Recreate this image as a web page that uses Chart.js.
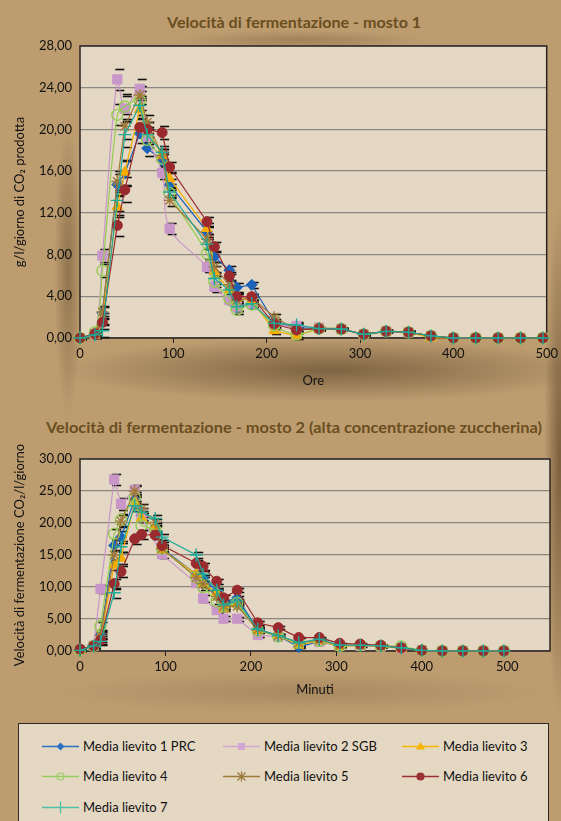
<!DOCTYPE html>
<html lang="it">
<head>
<meta charset="utf-8">
<title>Velocità di fermentazione</title>
<script src="https://cdn.jsdelivr.net/npm/chart.js@4.4.1/dist/chart.umd.min.js"></script>
<style>
    html, body { margin: 0; padding: 0; }
    body {
        width: 561px; height: 821px; overflow: hidden; position: relative;
        font-family: Lato, "Open Sans", sans-serif;
        background:
            radial-gradient(ellipse 270px 32px at 330px 370px, rgba(100,76,48,0.7), rgba(100,76,48,0)),
            radial-gradient(ellipse 14px 150px at 68px 270px, rgba(115,88,55,0.6), rgba(115,88,55,0)),
            radial-gradient(ellipse 16px 260px at 560px 460px, rgba(105,80,50,0.8), rgba(105,80,50,0)),
            radial-gradient(ellipse 130px 10px at 300px 40px, rgba(125,96,62,0.45), rgba(125,96,62,0)),
            radial-gradient(ellipse 260px 22px at 300px 692px, rgba(140,110,75,0.4), rgba(140,110,75,0)),
            #bd9d70;
    }
    .titolo {
        position: absolute; left: 0; white-space: nowrap;
        font-weight: 700; font-size: 15px; color: #6a4e20;
        transform-origin: left center; line-height: 18px;
    }
    .wrap { position: absolute; left: 0; width: 561px; }
    #wrap1 { top: 0; height: 400px; }
    #wrap2 { top: 400px; height: 310px; }
    .legenda {
        position: absolute; left: 18px; top: 723px; width: 531px; height: 110px;
        background: #e4d8c3; border: 1.5px solid #2c2824; box-sizing: border-box;
    }
    .voce {
        position: absolute; display: flex; align-items: center;
        font-size: 13px; color: #111; white-space: nowrap; height: 16px;
    }
    .voce canvas { margin-right: 4px; width: 37px; height: 16px; }
</style>
</head>
<body>

<div class="titolo" id="titolo1">Velocità di fermentazione - mosto 1</div>
<div class="wrap" id="wrap1"><canvas id="chart1"></canvas></div>

<div class="titolo" id="titolo2">Velocità di fermentazione - mosto 2 (alta concentrazione zuccherina)</div>
<div class="wrap" id="wrap2"><canvas id="chart2"></canvas></div>

<div id="legendBox"></div>

<script>
// ore di campionamento (comuni ai due mosti)
const hours = [0, 16, 24, 40, 48, 64, 72, 88, 96, 136, 144, 160, 168, 184, 208, 232, 256, 280, 304, 328, 352, 376, 400, 424, 448, 472, 496];

const seriesNames = ['Media lievito 1 PRC', 'Media lievito 2 SGB', 'Media lievito 3', 'Media lievito 4', 'Media lievito 5', 'Media lievito 6', 'Media lievito 7'];

// mosto 1 - g/l/giorno
const m1L1 = [0, 0.4, 2.4, 14.7, 15.8, 19.6, 18.2, 17.0, 14.7, 10.2, 7.8, 6.5, 4.85, 5.1, 1.56, 1.0, 0.9, 0.86, 0.35, 0.64, 0.55, 0.2, 0, 0, 0, 0, 0];
const m1L2 = [0, 0.4, 7.9, 24.8, 22.0, 23.9, 19.3, 15.85, 10.5, 6.8, 4.9, 3.64, 3.0, 3.3, 1.3, 1.15, 1.0, 0.86, 0.35, 0.64, 0.55, 0.2, 0, 0, 0, 0, 0];
const m1L3 = [0, 0.3, 1.8, 12.6, 15.9, 21.9, 20.0, 17.5, 15.3, 10.5, 6.4, 4.6, 3.8, 3.6, 0.7, 0.2, 0.9, 0.86, 0.35, 0.64, 0.55, 0, 0, 0, 0, 0, 0];
const m1L4 = [0, 0.55, 6.45, 21.4, 22.2, 22.8, 19.0, 17.2, 13.9, 8.1, 5.4, 3.8, 2.7, 3.2, 1.2, 0.35, 0.9, 0.86, 0.35, 0.64, 0.55, 0.2, 0, 0, 0, 0, 0];
const m1L5 = [0, 0.4, 2.5, 15.0, 20.3, 23.3, 20.7, 17.5, 13.2, 9.5, 6.8, 5.1, 3.6, 3.9, 2.0, 0.8, 0.9, 0.86, 0.35, 0.64, 0.55, 0.2, 0, 0, 0, 0, 0];
const m1L6 = [0, 0.4, 1.5, 10.8, 14.2, 20.2, 20.0, 19.7, 16.4, 11.15, 8.75, 5.95, 3.96, 3.96, 1.34, 0.77, 0.9, 0.86, 0.35, 0.64, 0.55, 0.2, 0, 0, 0, 0, 0];
const m1L7 = [0, 0.3, 0.7, 13.2, 19.5, 22.3, 19.5, 17.8, 14.0, 9.0, 5.7, 4.6, 3.0, 3.3, 1.4, 1.25, 0.9, 0.86, 0.35, 0.64, 0.55, 0.2, 0, 0, 0, 0, 0];
const m1Err = [0.1, 0.3, 0.6, 1.0, 1.2, 0.9, 0.7, 0.6, 0.5, 0.5, 0.5, 0.4, 0.4, 0.3, 0.3, 0.3, 0.1, 0.1, 0.1, 0.1, 0.1, 0, 0, 0, 0, 0, 0];

// mosto 2 - CO2/l/giorno
const m2L1 = [0.2, 0.8, 2.5, 16.5, 17.8, 23.7, 21.2, 19.1, 16.0, 12.0, 11.4, 9.3, 7.6, 8.3, 3.4, 2.4, 0.6, 1.5, 0.9, 0.9, 0.8, 0.5, 0.1, 0, 0, 0, 0];
const m2L2 = [0.2, 0.8, 9.7, 26.8, 23.0, 25.2, 20.9, null, 15.1, 10.6, 8.2, 6.4, 5.05, 5.05, 2.5, 2.2, 1.3, 1.4, 0.8, 0.8, 0.7, 0.5, 0.1, 0, 0, 0, 0];
const m2L3 = [0.1, 0.8, 2.0, 13.4, 14.5, 23.2, 20.8, 19.4, 15.8, 12.0, 10.5, 9.1, 6.6, 7.3, 3.2, 2.4, 0.9, 1.6, 0.7, 0.9, 0.7, 0.4, 0.1, 0, 0, 0, 0];
const m2L4 = [0.2, 0.8, 3.9, 18.3, 20.5, 24.0, 19.6, 19.0, 16.0, 11.5, 10.0, 7.8, 7.0, 7.5, 3.2, 2.3, 1.3, 1.6, 0.8, 0.9, 0.8, 0.72, 0.1, 0, 0, 0, 0];
const m2L5 = [0.2, 0.8, 2.4, 15.0, 20.3, 25.0, 22.2, 20.1, 16.0, 11.5, 10.5, 8.5, 7.0, 7.0, 3.3, 2.4, 1.3, 1.7, 0.9, 0.9, 0.8, 0.5, 0.1, 0, 0, 0, 0];
const m2L6 = [0.3, 0.8, 1.7, 10.5, 12.4, 17.5, 18.2, 18.1, 16.5, 13.7, 13.2, 10.9, 8.3, 9.5, 4.4, 3.65, 2.1, 2.1, 1.2, 1.08, 0.9, 0.5, 0.1, 0, 0, 0, 0];
const m2L7 = [0.1, 0.8, 1.5, 9.1, 16.3, 22.7, 21.7, 20.7, 17.8, 15.0, 12.0, 9.5, 7.2, 7.8, 3.4, 2.4, 1.3, 1.85, 0.9, 0.9, 0.8, 0.5, 0.1, 0, 0, 0, 0];
const m2Err = [0.1, 0.4, 0.6, 0.8, 0.9, 0.8, 0.7, 0.6, 0.5, 0.5, 0.5, 0.4, 0.4, 0.3, 0.3, 0.2, 0.1, 0.1, 0.1, 0.1, 0.1, 0, 0, 0, 0, 0, 0];

// stile delle serie (marker come nel grafico Excel)
const styles = [
    { color: '#1a63b8', legend: '#2f70c2', pointStyle: 'rectRot', radius: 5.5, fill: true },
    { color: '#c896c8', legend: '#d4a6d4', pointStyle: 'rect', radius: 6.5, fill: true },
    { color: '#f6ad00', legend: '#f8b400', pointStyle: 'triangle', radius: 6, fill: true },
    { color: '#94cc52', legend: '#98cc62', pointStyle: 'circle', radius: 5.5, fill: false },
    { color: '#a07a3a', legend: '#9c7a3c', pointStyle: 'star', radius: 6, fill: false },
    { color: '#9a2a2e', legend: '#9b3034', pointStyle: 'circle', radius: 5, fill: true },
    { color: '#1faa98', legend: '#4cc0a8', pointStyle: 'cross', radius: 6.5, fill: false }
];

const FONT = 'Lato, "Open Sans", sans-serif';

function fmt(v) {
    return v.toFixed(2).replace('.', ',');
}

// sfondo e bordo dell'area del grafico
const plotBox = {
    id: 'plotBox',
    beforeDraw(chart) {
        const { ctx, chartArea: a } = chart;
        ctx.save();
        ctx.fillStyle = '#e4d8c4';
        ctx.fillRect(a.left, a.top, a.width, a.height);
        ctx.restore();
    },
    beforeDatasetsDraw(chart) {
        const { ctx, chartArea: a } = chart;
        ctx.save();
        ctx.strokeStyle = '#2a2520';
        ctx.lineWidth = 1.5;
        ctx.strokeRect(a.left, a.top, a.width, a.height);

        // barre d'errore (solo i cappucci, come nell'originale)
        const err = chart.options.plugins.plotBox.err;
        const y = chart.scales.y;
        ctx.strokeStyle = '#111';
        ctx.lineWidth = 1.6;
        chart.data.datasets.forEach((ds, di) => {
            const meta = chart.getDatasetMeta(di);
            meta.data.forEach((pt, i) => {
                const e = err[ds.data[i].idx];
                if (!e) return;
                const v = ds.data[i].y;
                [v + e, v - e].forEach(val => {
                    const py = Math.round(y.getPixelForValue(val)) + 0.5;
                    ctx.beginPath();
                    ctx.moveTo(pt.x - 2, py);
                    ctx.lineTo(pt.x + 7, py);
                    ctx.stroke();
                });
            });
        });
        ctx.restore();
    }
};

function makeDatasets(series, smooth) {
    return series.map((vals, i) => {
        const s = styles[i];
        const pts = [];
        vals.forEach((v, k) => {
            if (v !== null) pts.push({ x: hours[k], y: v, idx: k });
        });
        return {
            label: seriesNames[i],
            data: pts,
            showLine: true,
            borderColor: s.color,
            backgroundColor: s.fill ? s.color : 'rgba(0,0,0,0)',
            pointBorderColor: s.color,
            pointBackgroundColor: s.fill ? s.color : 'rgba(0,0,0,0)',
            borderWidth: 1.2,
            pointBorderWidth: s.fill ? 1 : 1.4,
            pointStyle: s.pointStyle,
            pointRadius: s.radius,
            tension: smooth.includes(i) ? 0.35 : 0,
            order: 6 - i,
            clip: 12
        };
    });
}

function makeChart(id, series, err, cfg) {
    return new Chart(document.getElementById(id), {
        type: 'scatter',
        data: { datasets: makeDatasets(series, cfg.smooth) },
        options: {
            responsive: true,
            maintainAspectRatio: false,
            animation: false,
            layout: { padding: { top: cfg.top, right: 11, left: 0, bottom: 0 } },
            plugins: {
                legend: { display: false },
                tooltip: { enabled: false },
                plotBox: { err: err }
            },
            scales: {
                x: {
                    type: 'linear',
                    min: 0,
                    max: cfg.xMax,
                    afterFit: s => { s.height = cfg.xHeight; },
                    ticks: {
                        stepSize: 100,
                        includeBounds: false,
                        maxRotation: 0,
                        padding: 3,
                        color: '#111',
                        font: { family: FONT, size: 13 }
                    },
                    grid: { drawOnChartArea: false, drawTicks: true, tickLength: 5, color: '#222' },
                    border: { display: false },
                    title: {
                        display: true,
                        text: cfg.xTitle,
                        color: '#111',
                        font: { family: FONT, size: 13 },
                        padding: { top: 0, bottom: cfg.xTitlePad }
                    }
                },
                y: {
                    min: 0,
                    max: cfg.yMax,
                    afterFit: s => { s.width = 80; },
                    ticks: {
                        stepSize: cfg.yStep,
                        padding: 8,
                        color: '#111',
                        font: { family: FONT, size: 13 },
                        callback: v => fmt(v)
                    },
                    grid: { color: '#8a8680', lineWidth: 1.3, drawTicks: false },
                    border: { display: false },
                    title: {
                        display: true,
                        text: cfg.yTitle,
                        color: '#111',
                        font: { family: FONT, size: 13 },
                        padding: { top: 12, bottom: 0 }
                    }
                }
            }
        },
        plugins: [plotBox]
    });
}

makeChart('chart1', [m1L1, m1L2, m1L3, m1L4, m1L5, m1L6, m1L7], m1Err, {
    top: 46, xHeight: 62, xMax: 500, yMax: 28, yStep: 4, smooth: [1, 3],
    xTitle: 'Ore', xTitlePad: 11, yTitle: 'g/l/giorno di CO₂ prodotta'
});

makeChart('chart2', [m2L1, m2L2, m2L3, m2L4, m2L5, m2L6, m2L7], m2Err, {
    top: 59, xHeight: 59, xMax: 550, yMax: 30, yStep: 5, smooth: [],
    xTitle: 'Minuti', xTitlePad: 12, yTitle: 'Velocità di fermentazione CO₂/l/giorno'
});

// titoli: adattati alla larghezza dell'originale
function placeTitle(id, left, right, cy) {
    const el = document.getElementById(id);
    const w = el.getBoundingClientRect().width;
    el.style.left = left + 'px';
    el.style.top = (cy - 9) + 'px';
    el.style.transform = 'scaleX(' + ((right - left) / w).toFixed(3) + ')';
}
placeTitle('titolo1', 167, 421, 22);
placeTitle('titolo2', 46, 542, 427);

// piccoli simboli della legenda
function drawLegendMarker(ctx, style, x, y) {
    ctx.beginPath();
    switch (style) {
        case 'rectRot':
            ctx.moveTo(x, y - 4); ctx.lineTo(x + 4, y); ctx.lineTo(x, y + 4); ctx.lineTo(x - 4, y); ctx.closePath();
            ctx.fill();
            break;
        case 'rect':
            ctx.rect(x - 3.5, y - 3.5, 7, 7);
            ctx.fill();
            break;
        case 'triangle':
            ctx.moveTo(x, y - 4.5); ctx.lineTo(x + 4.5, y + 3); ctx.lineTo(x - 4.5, y + 3); ctx.closePath();
            ctx.fill();
            break;
        case 'circle':
            ctx.arc(x, y, 3.5, 0, Math.PI * 2);
            if (ctx.fillStyle !== 'rgba(0, 0, 0, 0)') ctx.fill();
            ctx.stroke();
            break;
        case 'star':
            ctx.moveTo(x - 4, y - 4); ctx.lineTo(x + 4, y + 4);
            ctx.moveTo(x + 4, y - 4); ctx.lineTo(x - 4, y + 4);
            ctx.moveTo(x, y - 5); ctx.lineTo(x, y + 5);
            ctx.stroke();
            break;
        case 'cross':
            ctx.moveTo(x, y - 6); ctx.lineTo(x, y + 6);
            ctx.stroke();
            break;
    }
}

// legenda
(function buildLegend() {
    const box = document.getElementById('legendBox');
    box.className = 'legenda';
    const cols = [41, 222, 401];
    const rows = [745, 775, 806];
    seriesNames.forEach((name, i) => {
        const s = styles[i];
        const item = document.createElement('div');
        item.className = 'voce';
        item.style.left = (cols[i % 3] - 18) + 'px';
        item.style.top = (rows[Math.floor(i / 3)] - 723 - 8) + 'px';

        const c = document.createElement('canvas');
        c.width = 37; c.height = 16;
        const ctx = c.getContext('2d');
        ctx.strokeStyle = s.legend;
        ctx.lineWidth = 1.5;
        ctx.beginPath();
        ctx.moveTo(0, 8.5);
        ctx.lineTo(37, 8.5);
        ctx.stroke();
        ctx.fillStyle = s.fill ? s.legend : 'rgba(0,0,0,0)';
        ctx.lineWidth = 1.2;
        drawLegendMarker(ctx, s.pointStyle, 18.5, 8.5);
        item.appendChild(c);

        const t = document.createElement('span');
        t.textContent = name;
        item.appendChild(t);
        box.appendChild(item);
    });
})();
</script>
</body>
</html>
